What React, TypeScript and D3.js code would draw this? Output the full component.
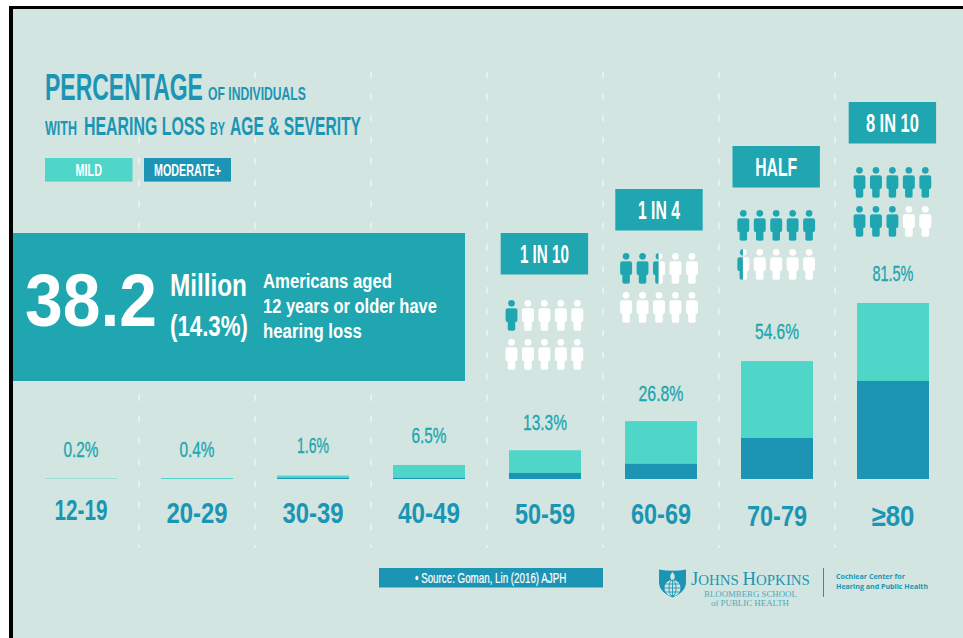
import React from "react";
import * as d3 from "d3";

const ages = ["12-19", "20-29", "30-39", "40-49", "50-59", "60-69", "70-79", "≥80"];
const totals = [0.2, 0.4, 1.6, 6.5, 13.3, 26.8, 54.6, 81.5];
const moderate = [0, 0.05, 0.5, 0.5, 2.8, 7, 19, 45.4];
const totalLabels = ["0.2%", "0.4%", "1.6%", "6.5%", "13.3%", "26.8%", "54.6%", "81.5%"];
const ratioLabels = ["1 IN 10", "1 IN 4", "HALF", "8 IN 10"];
const peopleFilled = [1, 2.5, 5.5, 8];
const ratioCenter = [544.4, 659, 776.2, 892.4];
const ratioBoxTop = [233, 189, 146, 102];
const peopleTop = [300, 253, 210, 167];
const ratioWidth = [49, 42, 42, 53];
const percentCapTop = [441, 441, 437, 427, 414, 385, 323, 265];
const percentWidth = [35, 35, 32, 35, 44, 45, 44, 41];
const ageCapTop = [499, 502, 502, 502, 503, 503, 505, 505];
const ageWidth = [53, 61, 61, 62, 60, 60, 60, 43];
const dividerX = [139, 255, 371, 487, 603, 719, 835];

const BG = "#d2e5e0";
const LIGHT = "#50d6c8";
const DARK = "#1c95b4";
const TEAL = "#1fa6b0";
const FONT = "'Liberation Sans', sans-serif";

const x = d3.scaleBand<string>().domain(ages).range([45, 929]).paddingInner(44 / 116).paddingOuter(0);
const y = d3.scaleLinear().domain([0, 81.5]).range([479, 303]);

function Fit(p: { x: number; r: number; top: number; bottom: number; fill: string; w?: number; children: React.ReactNode; f?: string; edge?: number }) {
  const size = (p.bottom - p.top) / 0.72;
  const fit = (el: SVGTextElement | null) => {
    if (!el) return;
    const natural = el.getComputedTextLength();
    el.setAttribute("transform", `translate(${p.x},${p.bottom}) scale(${(p.r - p.x) / natural},1)`);
  };
  return (
    <text ref={fit} fontFamily={p.f ?? FONT} fontSize={size} fontWeight={p.w ?? 700} fill={p.fill} stroke={p.edge ? p.fill : undefined} strokeWidth={p.edge}>
      {p.children}
    </text>
  );
}

const PERSON =
  "M-4,8.2 H4 Q6,8.2 6,10.4 V19.5 Q6,22 4.4,22 H3.8 V29 Q3.8,30.7 2,30.7 H-2 Q-3.8,30.7 -3.8,29 V22 H-4.4 Q-6,22 -6,19.5 V10.4 Q-6,8.2 -4,8.2 Z";

function Person(p: { cx: number; top: number; fill: string }) {
  return (
    <g transform={`translate(${p.cx},${p.top})`} fill={p.fill}>
      <circle cx={0} cy={3.3} r={3.4} />
      <path d={PERSON} />
    </g>
  );
}

function People(p: { cx: number; top: number; filled: number; id: string }) {
  return (
    <g>
      {d3.range(10).map((i) => {
        const col = i % 5;
        const row = Math.floor(i / 5);
        const cx = p.cx + (col - 2) * 16.45;
        const top = p.top + row * 39;
        const frac = Math.max(0, Math.min(1, p.filled - i));
        const cid = `${p.id}-${i}`;
        return (
          <g key={i}>
            <Person cx={cx} top={top} fill="#ffffff" />
            {frac > 0 && frac < 1 && (
              <clipPath id={cid}>
                <rect x={cx - 7} y={top - 1} width={14 * frac - 0.4} height={34} />
              </clipPath>
            )}
            {frac > 0 && (
              <g clipPath={frac < 1 ? `url(#${cid})` : undefined}>
                <Person cx={cx} top={top} fill={TEAL} />
              </g>
            )}
          </g>
        );
      })}
    </g>
  );
}

function Logo() {
  const gx = 672.5;
  const gy = 588;
  const serif = "'Liberation Serif', serif";
  return (
    <g>
      <path d="M659,569.5 Q672.5,572 686,569.5 V582 Q686,592 672.5,597.5 Q659,592 659,582 Z" fill={DARK} />
      <path d={`M${gx},572 q4,4 1,8 q-1,2 -1,3 q0,-1 -1,-3 q-3,-4 1,-8 Z`} fill={BG} />
      <circle cx={gx} cy={gy} r={8} fill={BG} />
      <g stroke={DARK} strokeWidth={0.9} fill="none">
        <ellipse cx={gx} cy={gy} rx={3.5} ry={8} />
        <path d={`M${gx},${gy - 8} V${gy + 8} M${gx - 8},${gy} H${gx + 8} M${gx - 7},${gy - 4} H${gx + 7} M${gx - 7},${gy + 4} H${gx + 7}`} />
      </g>
      <Fit x={691} r={810} top={572} bottom={585} fill={DARK} w={400} f={serif}>
        J<tspan fontSize="0.8em">OHNS </tspan>H<tspan fontSize="0.8em">OPKINS</tspan>
      </Fit>
      <Fit x={704} r={797} top={591.2} bottom={597} fill="#4fa9bf" w={400} f={serif}>BLOOMBERG SCHOOL</Fit>
      <Fit x={711} r={789} top={600.2} bottom={606} fill="#4fa9bf" w={400} f={serif}>of PUBLIC HEALTH</Fit>
      <rect x={823} y={568} width={1} height={29} fill={DARK} />
      <Fit x={836} r={905} top={573.5} bottom={579} fill={DARK} f="'Open Sans', sans-serif">Cochlear Center for</Fit>
      <Fit x={836} r={928} top={583.5} bottom={589} fill={DARK} f="'Open Sans', sans-serif">Hearing and Public Health</Fit>
    </g>
  );
}

export default function App() {
  const bw = x.bandwidth();
  return (
    <svg width={963} height={638} style={{ position: "absolute", left: 0, top: 0, background: "#fff" }}>
      <rect x={9} y={6} width={954} height={632} fill="#000" />
      <rect x={13} y={9} width={950} height={629} fill={BG} />

      {dividerX.map((dx) => (
        <line key={dx} x1={dx} x2={dx} y1={72} y2={548} stroke="#e6f0ec" strokeWidth={2} strokeDasharray="6.5 15" />
      ))}

      {/* Title */}
      <Fit x={45} r={203} top={73} bottom={100} fill={DARK}>PERCENTAGE</Fit>
      <Fit x={208} r={306} top={87} bottom={100} fill={DARK}>OF INDIVIDUALS</Fit>
      <Fit x={45} r={77} top={121} bottom={135} fill={DARK}>WITH</Fit>
      <Fit x={84} r={205} top={116} bottom={135} fill={DARK}>HEARING LOSS</Fit>
      <Fit x={210} r={225} top={122} bottom={135} fill={DARK}>BY</Fit>
      <Fit x={230} r={361} top={116} bottom={135} fill={DARK}>{"AGE & SEVERITY"}</Fit>

      {/* Legend */}
      <rect x={45} y={158} width={87.5} height={23.6} fill={LIGHT} />
      <Fit x={75.5} r={102} top={164} bottom={176} fill="#fff">MILD</Fit>
      <rect x={144} y={158} width={87} height={23.6} fill={DARK} />
      <Fit x={154} r={221} top={164} bottom={176} fill="#fff">MODERATE+</Fit>

      {/* Headline box */}
      <rect x={13} y={233} width={452} height={148} fill={TEAL} />
      <Fit x={25} r={157} top={273} bottom={326} fill="#fff">38.2</Fit>
      <Fit x={170} r={247} top={273} bottom={296} fill="#fff">Million</Fit>
      <Fit x={170} r={248} top={315} bottom={336} fill="#fff">(14.3%)</Fit>
      <Fit x={263} r={392} top={273} bottom={288} fill="#fff">Americans aged</Fit>
      <Fit x={263} r={437} top={298} bottom={313} fill="#fff">12 years or older have</Fit>
      <Fit x={263} r={362} top={323} bottom={338} fill="#fff">hearing loss</Fit>

      {/* Bars */}
      {ages.map((a, i) => {
        const cx = x(a)! + bw / 2;
        return (
          <g key={a}>
            <rect x={x(a)} y={y(totals[i])} width={bw} height={y(0) - y(totals[i])} fill={LIGHT} />
            <rect x={x(a)} y={y(moderate[i])} width={bw} height={y(0) - y(moderate[i])} fill={DARK} />
            <Fit x={cx - percentWidth[i] / 2} r={cx + percentWidth[i] / 2} top={percentCapTop[i]} bottom={percentCapTop[i] + 16} fill={TEAL} w={400} edge={0.35}>
              {totalLabels[i]}
            </Fit>
            <Fit x={cx - ageWidth[i] / 2} r={cx + ageWidth[i] / 2} top={ageCapTop[i]} bottom={ageCapTop[i] + 21} fill={DARK}>
              {a}
            </Fit>
          </g>
        );
      })}

      {/* Ratio callouts */}
      {ratioLabels.map((label, i) => {
        const cx = ratioCenter[i];
        return (
          <g key={label}>
            <rect x={cx - 43.7} y={ratioBoxTop[i]} width={87.4} height={41.5} fill={TEAL} />
            <Fit x={cx - ratioWidth[i] / 2} r={cx + ratioWidth[i] / 2} top={ratioBoxTop[i] + 12} bottom={ratioBoxTop[i] + 30} fill="#fff">
              {label}
            </Fit>
            <People cx={cx} top={peopleTop[i]} filled={peopleFilled[i]} id={`p${i}`} />
          </g>
        );
      })}

      {/* Source */}
      <rect x={379} y={568} width={224} height={19.5} fill={DARK} />
      <Fit x={415} r={566.5} top={572.7} bottom={582.6} fill="#fff" w={400} edge={0.2}>• Source: Goman, Lin (2016) AJPH</Fit>

      <Logo />
    </svg>
  );
}
